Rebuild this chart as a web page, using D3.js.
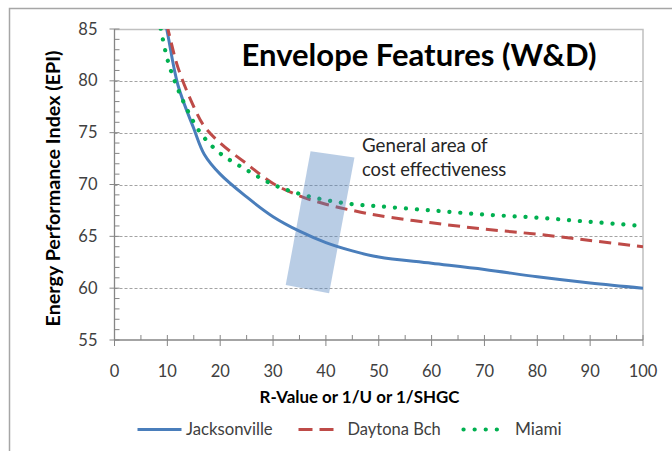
<!DOCTYPE html>
<html><head><meta charset="utf-8">
<script src="https://cdn.jsdelivr.net/npm/d3@7"></script>
<style>body{margin:0;background:#fff;} svg{display:block;font-family:Lato,'Open Sans',sans-serif;}</style>
</head><body><svg id="c" width="672" height="451"></svg>
<script>
const xValues = [8,10,12,15,17,20,25,30,35,40,45,50,60,70,80,90,100];
const jacksonville = [89.9,84.7,79.6,75.4,72.9,71.0,68.8,66.9,65.5,64.4,63.6,63.0,62.4,61.8,61.1,60.5,60.0];
const daytonaBch = [89.0,85.2,81.3,77.5,75.6,74.0,72.0,70.1,68.9,68.1,67.5,67.0,66.3,65.7,65.2,64.6,64.0];
const miami = [87.1,82.1,79.2,76.0,74.5,73.0,71.4,70.0,69.1,68.5,68.1,67.9,67.5,67.1,66.8,66.4,66.0];
const seriesNames = ["Jacksonville","Daytona Bch","Miami"];
const xTicks = [0,10,20,30,40,50,60,70,80,90,100];
const yTicks = [55,60,65,70,75,80,85];
const costAreaX = [37.1,45.4,40.6,32.4];
const costAreaY = [73.2,72.6,59.5,60.3];
const titleText = "Envelope Features (W&D)";
const xTitle = "R-Value or 1/U or 1/SHGC";
const yTitle = "Energy Performance Index (EPI)";
const noteLines = ["General area of","cost effectiveness"];

const svg = d3.select("#c");
const L = 114.5, R = 643, T = 29, B = 340;
const x = d3.scaleLinear().domain([0,100]).range([L,R]);
const y = d3.scaleLinear().domain([55,85]).range([B,T]);

function fit(t, w){
  const l = t.node().getComputedTextLength();
  const fs = parseFloat(t.attr("font-size"));
  t.attr("font-size", fs*w/l);
  return t;
}

// outer frame (partially visible)
svg.append("path").attr("d","M9.5,451 L9.5,8.5 L672,8.5").attr("fill","none").attr("stroke","#a6a6a6").attr("stroke-width",1.5);

// gridlines
svg.append("g").selectAll("line").data(yTicks.filter(d=>d>55 && d<85)).join("line")
  .attr("x1",L).attr("x2",R).attr("y1",d=>Math.round(y(d))+0.5).attr("y2",d=>Math.round(y(d))+0.5)
  .attr("stroke","#8c8c8c").attr("stroke-width",0.8).attr("stroke-dasharray","3,2");

// plot border top/right
svg.append("path").attr("d",`M${L},${T+0.5} L${R},${T+0.5} L${R},${B}`).attr("fill","none").attr("stroke","#c0c0c0").attr("stroke-width",1.5);

// axes
const axisColor = "#868686";
const yMinor = d3.range(55,86,1).filter(d=>d%5!==0);
const xMinor = d3.range(5,100,10);
const gy = svg.append("g");
gy.append("line").attr("x1",L).attr("x2",L).attr("y1",T).attr("y2",B).attr("stroke",axisColor).attr("stroke-width",1.3);
gy.selectAll(".mj").data(yTicks).join("line").attr("x1",L-5).attr("x2",L+5)
  .attr("y1",d=>y(d)).attr("y2",d=>y(d)).attr("stroke",axisColor).attr("stroke-width",1);
gy.selectAll(".mn").data(yMinor).join("line").attr("class","mn").attr("x1",L).attr("x2",L+5)
  .attr("y1",d=>y(d)).attr("y2",d=>y(d)).attr("stroke",axisColor).attr("stroke-width",1);
gy.selectAll("text").data(yTicks).join("text").attr("x",L-17).attr("y",d=>y(d)+5.5)
  .attr("text-anchor","end").attr("font-size",16.5).attr("fill","#404040").text(d=>d);

const gx = svg.append("g");
gx.append("line").attr("x1",L).attr("x2",R).attr("y1",B).attr("y2",B).attr("stroke",axisColor).attr("stroke-width",1.3);
gx.selectAll(".mj").data(xTicks).join("line").attr("x1",d=>x(d)).attr("x2",d=>x(d))
  .attr("y1",B-5).attr("y2",B+6).attr("stroke",axisColor).attr("stroke-width",1);
gx.selectAll(".mn").data(xMinor).join("line").attr("class","mn").attr("x1",d=>x(d)).attr("x2",d=>x(d))
  .attr("y1",B-5).attr("y2",B).attr("stroke",axisColor).attr("stroke-width",1);
gx.selectAll("text").data(xTicks).join("text").attr("x",d=>x(d)).attr("y",377)
  .attr("text-anchor","middle").attr("font-size",16.5).attr("fill","#404040").text(d=>d);

// clip
svg.append("clipPath").attr("id","clip").append("rect").attr("x",L).attr("y",T).attr("width",R-L).attr("height",B-T);

const series = [
  {name:seriesNames[0], vals:jacksonville, color:"#4a7ebb", dash:null, w:3},
  {name:seriesNames[1], vals:daytonaBch, color:"#be4b48", dash:"12,7", w:3},
  {name:seriesNames[2], vals:miami, color:"#00b050", dash:"0.1,10.8", w:4.2, round:true}
];
const line = d3.line().x((d,i)=>x(xValues[i])).y(d=>y(d)).curve(d3.curveCatmullRom.alpha(0.5));
const gl = svg.append("g").attr("clip-path","url(#clip)");
series.forEach(s=>{
  gl.append("path").attr("d",line(s.vals)).attr("fill","none").attr("stroke",s.color)
    .attr("stroke-width",s.w).attr("stroke-dasharray",s.dash).attr("stroke-linecap",s.round?"round":"butt");
});

// cost-effectiveness area
svg.append("path")
  .attr("d", "M" + costAreaX.map((v,i)=>x(v)+","+y(costAreaY[i])).join("L") + "Z")
  .attr("fill","#4f81bd").attr("fill-opacity",0.4);

// note
noteLines.forEach((t,i)=>{
  const el = svg.append("text").attr("x",362).attr("y",151.5+i*24).attr("font-size",16).attr("fill","#262626").text(t);
  fit(el, i===0?125.7:144.3);
});

// title
const tt = svg.append("text").attr("x",419).attr("y",65.5).attr("text-anchor","middle")
  .attr("font-size",28).attr("font-weight","bold").attr("fill","#000").text(titleText);
fit(tt,355);

// axis titles
const xt = svg.append("text").attr("x",359.5).attr("y",402.5).attr("text-anchor","middle")
  .attr("font-size",16).attr("font-weight","bold").attr("fill","#000").text(xTitle);
fit(xt,200);
const yt = svg.append("text").attr("transform","translate(60,188.5) rotate(-90)").attr("text-anchor","middle")
  .attr("font-size",16).attr("font-weight","bold").attr("fill","#000").text(yTitle);
fit(yt,276);

// legend
const legX = [137.5, 298.5, 463.5];
const legW = [44, 35, 44];
const legTX = [186, 347.5, 515];
const legTW = [86.7, 93.3, 46.7];
const ly = 429.5;
series.forEach((s,i)=>{
  svg.append("line").attr("x1",legX[i]).attr("x2",legX[i]+legW[i]).attr("y1",ly).attr("y2",ly)
    .attr("stroke",s.color).attr("stroke-width",s.w)
    .attr("stroke-dasharray", i===1?"14,7":(i===2?"0.1,11":null))
    .attr("stroke-linecap",s.round?"round":"butt");
  const t = svg.append("text").attr("x",legTX[i]).attr("y",435).attr("font-size",16).attr("fill","#404040").text(s.name);
  fit(t,legTW[i]);
});
</script>
</body></html>
